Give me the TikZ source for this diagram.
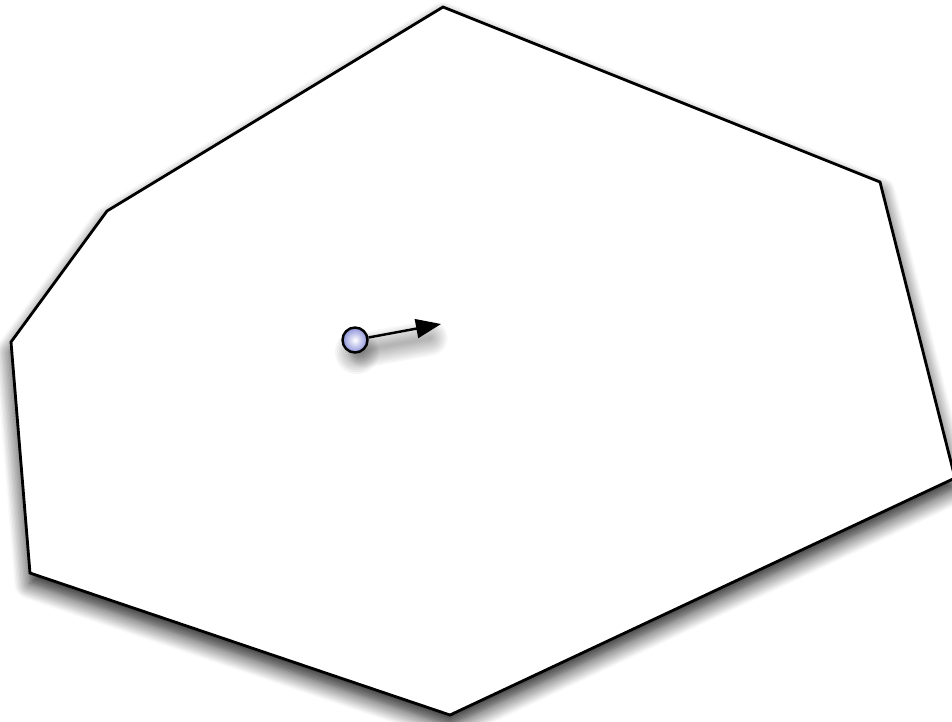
\documentclass[tikz,border=0pt]{standalone}
\usetikzlibrary{shadows.blur,arrows.meta}
\begin{document}
\begin{tikzpicture}[x=0.02cm,y=-0.02cm]
\definecolor{particle}{HTML}{8C92D8}
\tikzset{soft/.style={blur shadow={shadow xshift=0pt, shadow yshift=-6pt, shadow blur radius=9pt, shadow blur steps=12, shadow opacity=90}}}
\useasboundingbox (0,0) rectangle (952,721);
\begin{scope}
\clip (0,0) rectangle (952,721);
\filldraw[fill=white, draw=black, line width=1.6pt, soft] (443,7) -- (880,182) -- (955,478) -- (450,715) -- (30,573) -- (11,342) -- (107,211) -- cycle;
\end{scope}
% soft shadow under the particle and its arrow
\foreach \r in {2,4,...,22}
  \fill[black, opacity=0.04] (357,352) circle (\r);
\foreach \w in {2,4,...,20}
  \draw[black, opacity=0.03, line width=\w pt, line cap=round] (365,350) -- (430,338);
\node[circle, minimum size=0.5cm, inner sep=0pt, draw, line width=1.4pt, inner color=white, outer color=particle] (agent) at (355,340) {};
\coordinate (tip) at (441,324);
\draw[-{Triangle[length=0.5cm,width=0.38cm]}, line width=1.4pt] (agent) -- (tip);
\end{tikzpicture}
\end{document}
